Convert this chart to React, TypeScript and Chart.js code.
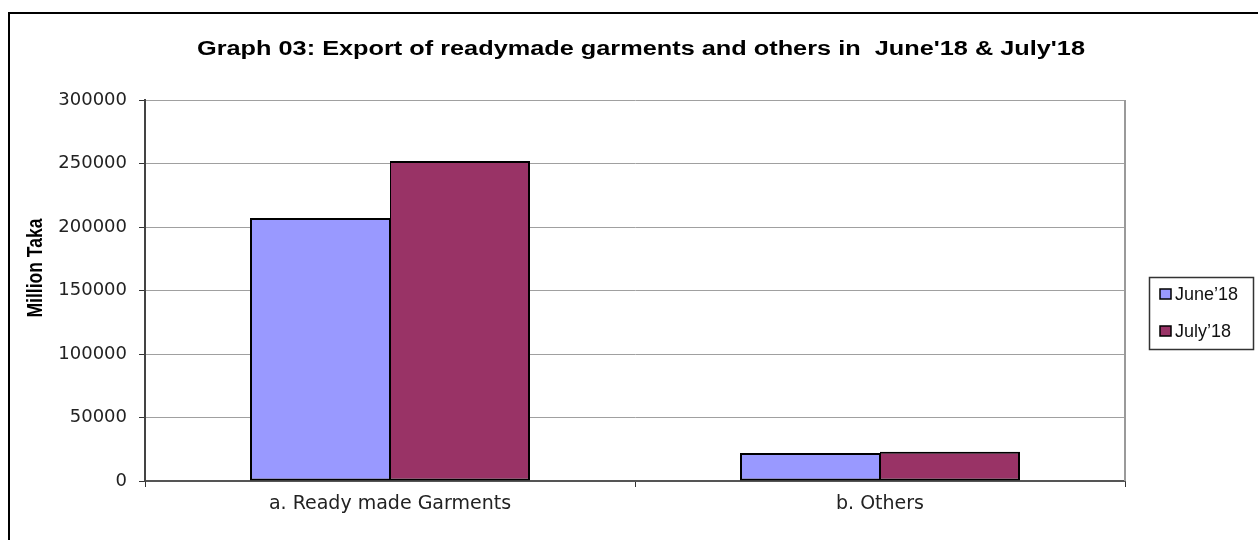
import React, { useEffect, useRef } from "react";
import { Chart, registerables } from "chart.js";

Chart.register(...registerables);

const categories = ["a. Ready made Garments", "b. Others"];
const june18 = [207000, 22000];
const july18 = [252000, 23000];
const seriesLabels = ["June\u201918", "July\u201918"];
const seriesColors = ["#9999FF", "#993366"];
const chartTitle = "Graph 03: Export of readymade garments and others in  June'18 & July'18";
const yAxisTitle = "Million Taka";
const yMin = 0;
const yMax = 300000;
const yStep = 50000;

const decorPlugin = {
  id: "decor",
  beforeDraw(chart: any) {
    const ctx = chart.ctx;
    ctx.save();
    ctx.fillStyle = "#ffffff";
    ctx.fillRect(0, 0, chart.width, chart.height);
    ctx.restore();
  },
  afterDraw(chart: any) {
    const ctx = chart.ctx;
    const a = chart.chartArea;
    ctx.save();
    // outer frame
    ctx.strokeStyle = "#000";
    ctx.lineWidth = 2;
    ctx.strokeRect(9, 13, 3000, 3000);
    // plot area right border
    ctx.strokeStyle = "#9a9a9a";
    ctx.lineWidth = 2;
    ctx.beginPath();
    ctx.moveTo(a.right, a.top);
    ctx.lineTo(a.right, a.bottom);
    ctx.stroke();

    // title
    ctx.fillStyle = "#000";
    ctx.font = "bold 20px 'Liberation Sans', Arial, sans-serif";
    ctx.textBaseline = "alphabetic";
    ctx.textAlign = "center";
    const tw = ctx.measureText(chartTitle).width;
    ctx.save();
    ctx.translate(641, 54.5);
    ctx.scale(888 / tw, 1);
    ctx.fillText(chartTitle, 0, 0);
    ctx.restore();

    // y axis title
    ctx.font = "bold 17px 'Liberation Sans', Arial, sans-serif";
    ctx.textBaseline = "middle";
    const yw = ctx.measureText(yAxisTitle).width;
    ctx.save();
    ctx.translate(36, 268);
    ctx.rotate(-Math.PI / 2);
    ctx.scale(99 / yw, 1.25);
    ctx.fillText(yAxisTitle, 0, 0);
    ctx.restore();

    // legend
    ctx.strokeStyle = "#333";
    ctx.lineWidth = 1.5;
    ctx.strokeRect(1149.5, 277.5, 104, 72);
    const rows = [294, 331];
    ctx.font = "18px 'Liberation Sans', Arial, sans-serif";
    ctx.textAlign = "left";
    ctx.textBaseline = "middle";
    seriesLabels.forEach((lab, i) => {
      const cy = rows[i];
      ctx.fillStyle = seriesColors[i];
      ctx.fillRect(1160, cy - 5, 11, 10);
      ctx.strokeStyle = "#000";
      ctx.lineWidth = 1.5;
      ctx.strokeRect(1160, cy - 5, 11, 10);
      ctx.fillStyle = "#111";
      ctx.fillText(lab, 1175, cy + 1);
    });
    ctx.restore();
  },
};

export default function App() {
  const ref = useRef<HTMLCanvasElement | null>(null);
  useEffect(() => {
    if (!ref.current) return;
    const chart = new Chart(ref.current, {
      type: "bar",
      data: {
        labels: categories,
        datasets: [
          {
            label: seriesLabels[0],
            data: june18,
            backgroundColor: seriesColors[0],
            borderColor: "#000",
            borderWidth: { top: 2, left: 2, bottom: 2, right: 1 },
            borderSkipped: false,
            barPercentage: 1,
            categoryPercentage: 280 / 490,
          },
          {
            label: seriesLabels[1],
            data: july18,
            backgroundColor: seriesColors[1],
            borderColor: "#000",
            borderWidth: { top: 2, left: 1, bottom: 2, right: 2 },
            borderSkipped: false,
            barPercentage: 1,
            categoryPercentage: 280 / 490,
          },
        ],
      },
      options: {
        responsive: false,
        animation: false,
        devicePixelRatio: 1,
        layout: { padding: { left: 0, top: 100, right: 133, bottom: 0 } },
        plugins: {
          legend: { display: false },
          title: { display: false },
          tooltip: { enabled: false },
        },
        scales: {
          x: {
            grid: {
              display: true,
              drawOnChartArea: false,
              drawTicks: true,
              tickLength: 6,
              tickColor: "#333",
              offset: true,
            },
            border: { display: true, color: "#555", width: 2 },
            ticks: {
              color: "#222",
              padding: 6,
              font: { family: "'DejaVu Sans', sans-serif", size: 19 },
            },
            afterFit: (s: any) => {
              s.height = 59;
            },
          },
          y: {
            min: yMin,
            max: yMax,
            grid: {
              color: "#a0a0a0",
              lineWidth: 1,
              drawTicks: true,
              tickLength: 6,
              tickColor: "#333",
            },
            border: { display: true, color: "#444", width: 2 },
            ticks: {
              stepSize: yStep,
              color: "#222",
              padding: 12,
              font: { family: "'DejaVu Sans', sans-serif", size: 18 },
              callback: (v: any) => String(v),
            },
            afterFit: (s: any) => {
              s.width = 145;
            },
          },
        },
      },
      plugins: [decorPlugin],
    });
    return () => chart.destroy();
  }, []);
  return (
    <canvas
      ref={ref}
      width={1258}
      height={540}
      style={{ position: "absolute", left: 0, top: 0, width: 1258, height: 540, display: "block" }}
    />
  );
}
